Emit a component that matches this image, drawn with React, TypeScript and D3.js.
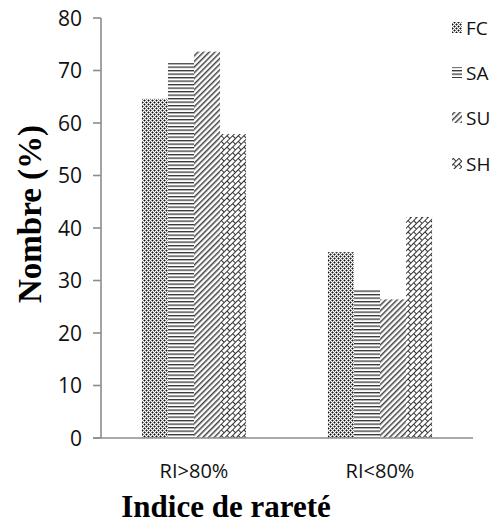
import React from "react";
import * as d3 from "d3";

const categories = ["RI>80%", "RI<80%"];
const seriesNames = ["FC", "SA", "SU", "SH"];
const FC = [64.6, 35.4];
const SA = [71.4, 28.2];
const SU = [73.6, 26.4];
const SH = [57.9, 42.1];
const yTicks = [0, 10, 20, 30, 40, 50, 60, 70, 80];
const seriesValues = [FC, SA, SU, SH];

const W = 499;
const H = 528;
const left = 101;
const right = 473;
const top = 18;
const bottom = 438;

export default function App() {
  const x0 = d3.scaleBand<string>().domain(categories).range([left, right]).paddingInner(0.44).paddingOuter(0.22);
  const x1 = d3.scaleBand<string>().domain(seriesNames).range([0, x0.bandwidth()]).padding(0);
  const y = d3.scaleLinear().domain([0, 80]).range([bottom, top]);
  const axisColor = "#8c8c8c";
  const legendY = [28, 73, 118, 164];

  return (
    <svg width={W} height={H} style={{ position: "absolute", left: 0, top: 0, background: "#fff" }}>
      <defs>
        <pattern id="pFC" width="4" height="4" patternUnits="userSpaceOnUse">
          <rect width="4" height="4" fill="#fff" />
          <rect x="0" y="0" width="1" height="1" fill="#111" />
          <rect x="2" y="2" width="1" height="1" fill="#111" />
          <rect x="1" y="0" width="1" height="1" fill="#888" />
          <rect x="0" y="1" width="1" height="1" fill="#888" />
          <rect x="3" y="2" width="1" height="1" fill="#888" />
          <rect x="2" y="3" width="1" height="1" fill="#888" />
          <rect x="3" y="0" width="1" height="1" fill="#888" />
          <rect x="0" y="3" width="1" height="1" fill="#888" />
          <rect x="1" y="2" width="1" height="1" fill="#888" />
          <rect x="2" y="1" width="1" height="1" fill="#888" />
        </pattern>
        <pattern id="pSA" width="4" height="3.5" patternUnits="userSpaceOnUse">
          <rect width="4" height="3.5" fill="#fff" />
          <rect x="0" y="0" width="4" height="1.3" fill="#333" />
        </pattern>
        <pattern id="pSU" width="4" height="4" patternUnits="userSpaceOnUse" patternTransform="rotate(45)">
          <rect width="4" height="4" fill="#fff" />
          <rect x="0" y="0" width="1.5" height="4" fill="#444" />
        </pattern>
        <pattern id="pSH" width="8" height="8" patternUnits="userSpaceOnUse" patternTransform="rotate(-45)">
          <rect width="8" height="8" fill="#fff" />
          <path d="M0,0.5 H8 M0,4.5 H8 M0.5,0.5 V4.5 M4.5,4.5 V8.5" stroke="#333" strokeWidth="1" fill="none" />
        </pattern>
      </defs>

      {categories.map((c, ci) => (
        <g key={c}>
          {seriesNames.map((s, si) => {
            const v = seriesValues[si][ci];
            return (
              <rect
                key={s}
                x={(x0(c) ?? 0) + (x1(s) ?? 0)}
                y={y(v)}
                width={x1.bandwidth()}
                height={y(0) - y(v)}
                fill={`url(#p${s})`}
              />
            );
          })}
        </g>
      ))}

      {/* y axis */}
      <line x1={left} x2={left} y1={y(80)} y2={y(0)} stroke={axisColor} strokeWidth={1.6} />
      {yTicks.map((t) => (
        <g key={t}>
          <line x1={left - 8} x2={left} y1={y(t)} y2={y(t)} stroke={axisColor} strokeWidth={1.6} />
          <text x={left - 19} y={y(t)} dy="0.36em" textAnchor="end" fontFamily="'Open Sans', sans-serif" fontSize={21} fill="#111">
            {t}
          </text>
        </g>
      ))}
      {/* x axis */}
      <line x1={left - 8} x2={right} y1={y(0)} y2={y(0)} stroke={axisColor} strokeWidth={1.6} />
      {categories.map((c) => (
        <text key={c} x={(x0(c) ?? 0) + x0.bandwidth() / 2} y={478} textAnchor="middle" fontFamily="'Open Sans', sans-serif" fontSize={20} fill="#111">
          {c}
        </text>
      ))}

      <text x={226} y={517} textAnchor="middle" fontFamily="'Liberation Serif', 'Times New Roman', serif" fontWeight="bold" fontSize={31} fill="#000">
        Indice de rareté
      </text>
      <text transform={`translate(41,214) rotate(-90)`} textAnchor="middle" fontFamily="'Liberation Serif', 'Times New Roman', serif" fontWeight="bold" fontSize={33} fill="#000">
        Nombre (%)
      </text>

      {seriesNames.map((s, i) => (
        <g key={s}>
          <rect x={452} y={legendY[i] - 6} width={10} height={11} fill={`url(#p${s})`} />
          <text x={466} y={legendY[i]} dy="0.36em" fontFamily="'Open Sans', sans-serif" fontSize={19} fill="#111">
            {s}
          </text>
        </g>
      ))}
    </svg>
  );
}
